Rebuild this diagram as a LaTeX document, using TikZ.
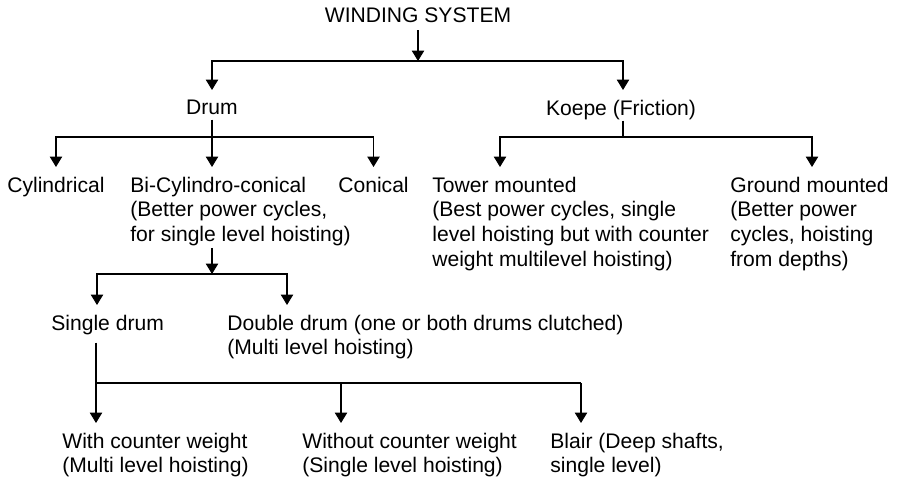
\documentclass[tikz,border=0pt]{standalone}
\usepackage{fontspec}
\setmainfont{Liberation Sans}
\usetikzlibrary{arrows.meta}

\begin{document}
\begin{tikzpicture}[font=\fontsize{12}{14}\selectfont,
  wire/.style={line width=0.6pt},
  arr/.style={wire,-{Triangle[width=2.5mm,length=2.1mm]}},
  lbl/.style={inner sep=0pt,outer ysep=2mm,align=left}]
  \useasboundingbox (0,0) rectangle (17.96,9.6);

  % Text blocks, top to bottom.
  \node[lbl,anchor=north] (winding) at (8.36,9.64) {WINDING SYSTEM};
  \node[lbl,anchor=north] (drum) at (4.24,7.80) {Drum};
  \node[lbl,anchor=north] (koepe) at (12.42,7.80) {Koepe (Friction)};

  \node[lbl,anchor=north west] (cyl) at (0.14,6.26) {Cylindrical};
  \node[lbl,anchor=north west] (bicyl) at (2.60,6.26)
    {Bi-Cylindro-conical\\(Better power cycles,\\for single level hoisting)};
  \node[lbl,anchor=north west] (conical) at (6.76,6.26) {Conical};
  \node[lbl,anchor=north west] (tower) at (8.64,6.26)
    {Tower mounted\\(Best power cycles, single\\level hoisting but with counter\\weight multilevel hoisting)};
  \node[lbl,anchor=north west] (ground) at (14.60,6.26)
    {Ground mounted\\(Better power\\cycles, hoisting\\from depths)};

  \node[lbl,anchor=north west] (single) at (1.02,3.50) {Single drum};
  \node[lbl,anchor=north west] (double) at (4.54,3.50)
    {Double drum (one or both drums clutched)\\(Multi level hoisting)};

  \node[lbl,anchor=north west] (withcw) at (1.24,1.14)
    {With counter weight\\(Multi level hoisting)};
  \node[lbl,anchor=north west] (withoutcw) at (6.04,1.14)
    {Without counter weight\\(Single level hoisting)};
  \node[lbl,anchor=north west] (blair) at (11.00,1.14)
    {Blair (Deep shafts,\\single level)};

  % Junctions on the horizontal bars.
  \coordinate (j1) at (8.36,8.38);
  \coordinate (j2) at (4.24,6.86);
  \coordinate (j3) at (12.46,6.86);
  \coordinate (j3a) at (10.00,6.86);
  \coordinate (j3b) at (16.24,6.86);
  \coordinate (j4) at (4.24,4.12);
  \coordinate (j4a) at (1.94,4.12);
  \coordinate (j4b) at (5.74,4.12);
  \coordinate (j5) at (1.92,1.94);
  \coordinate (j5b) at (6.82,1.94);
  \coordinate (j5c) at (11.62,1.94);

  % Winding system -> drum / koepe
  \draw[arr,shorten <=-0.5mm] (winding) -- (j1);
  \draw[arr] (j1) -| (drum);
  \draw[arr] (j1) -| (j3 |- koepe.north);

  % Drum -> three kinds
  \draw[arr,shorten <=-1mm] (drum) -- (j2 |- bicyl.north);
  \draw[arr] (j2) -| (cyl);
  \draw[arr] (j2) -| (conical);

  % Koepe -> tower / ground
  \draw[wire,shorten <=-1.8mm] (koepe.south -| j3) -- (j3);
  \draw[arr] (j3) -| (j3a |- tower.north);
  \draw[arr] (j3) -| (j3b |- ground.north);

  % Bi-cylindro-conical -> single / double
  \draw[arr,shorten <=-1.6mm] (bicyl.south -| j4) -- (j4);
  \draw[arr] (j4) -| (j4a |- single.north);
  \draw[arr] (j4) -| (j4b |- double.north);

  % Single drum -> three arrangements
  \draw[wire,shorten <=-0.4mm] (single.south -| j5) -- (j5) -- (j5c);
  \foreach \j/\n in {j5/withcw,j5b/withoutcw,j5c/blair}
    \draw[arr] (\j) -- (\j |- \n.north);
\end{tikzpicture}
\end{document}
